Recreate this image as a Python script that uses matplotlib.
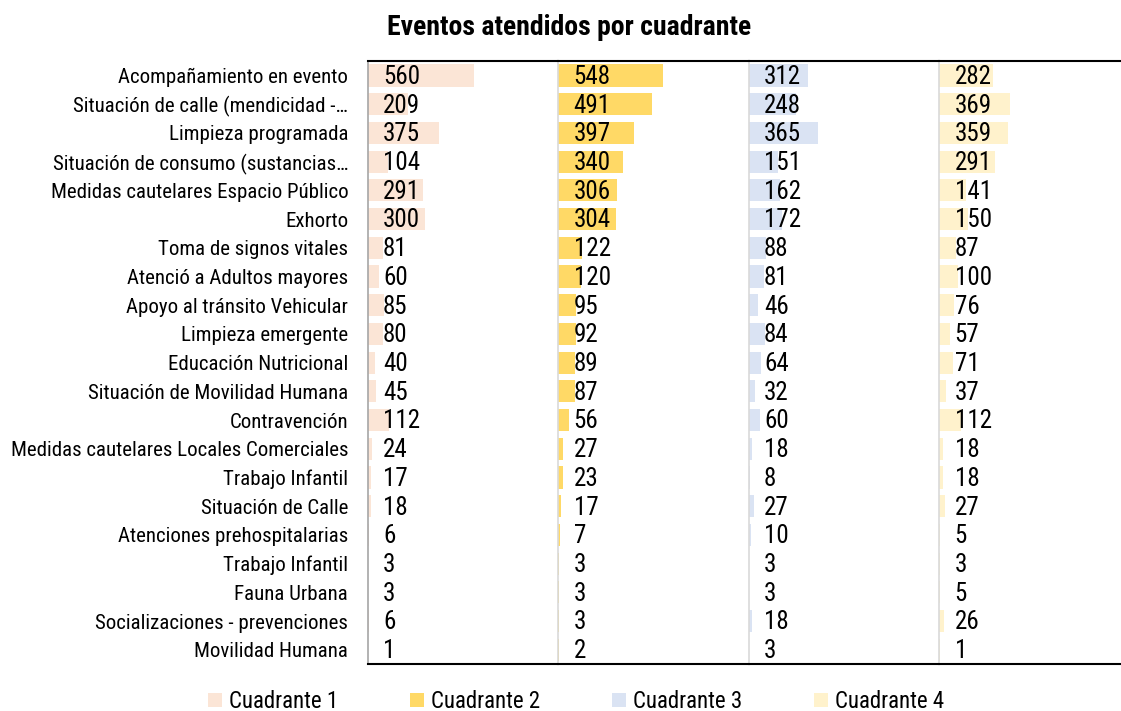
import matplotlib
matplotlib.use('Agg')
import matplotlib.pyplot as plt
from matplotlib import font_manager
from matplotlib.patches import Patch

categories = [
    'Acompañamiento en evento',
    'Situación de calle (mendicidad -…',
    'Limpieza programada',
    'Situación de consumo (sustancias…',
    'Medidas cautelares Espacio Público',
    'Exhorto',
    'Toma de signos vitales',
    'Atenció a Adultos mayores',
    'Apoyo al tránsito Vehicular',
    'Limpieza emergente',
    'Educación Nutricional',
    'Situación de Movilidad Humana',
    'Contravención',
    'Medidas cautelares Locales Comerciales',
    'Trabajo Infantil',
    'Situación de Calle',
    'Atenciones prehospitalarias',
    'Trabajo Infantil',
    'Fauna Urbana',
    'Socializaciones - prevenciones',
    'Movilidad Humana',
]
cuadrante_1 = [560, 209, 375, 104, 291, 300, 81, 60, 85, 80, 40, 45, 112, 24, 17, 18, 6, 3, 3, 6, 1]
cuadrante_2 = [548, 491, 397, 340, 306, 304, 122, 120, 95, 92, 89, 87, 56, 27, 23, 17, 7, 3, 3, 3, 2]
cuadrante_3 = [312, 248, 365, 151, 162, 172, 88, 81, 46, 84, 64, 32, 60, 18, 8, 27, 10, 3, 3, 18, 3]
cuadrante_4 = [282, 369, 359, 291, 141, 150, 87, 100, 76, 57, 71, 37, 112, 18, 18, 27, 5, 3, 5, 26, 1]
series = [cuadrante_1, cuadrante_2, cuadrante_3, cuadrante_4]
series_names = ['Cuadrante 1', 'Cuadrante 2', 'Cuadrante 3', 'Cuadrante 4']
colors = ['#FBE5D6', '#FFD966', '#DAE3F3', '#FFF2CC']

# pick a narrow font if one is around
names = {f.name for f in font_manager.fontManager.ttflist}
font = 'Roboto'
for cand in ['Roboto Condensed', 'Liberation Sans Narrow', 'Roboto']:
    if cand in names:
        font = cand
        break
plt.rcParams['font.family'] = [font, 'DejaVu Sans']
lab_size = 15
val_size = 18

fig = plt.figure(figsize=(11.21, 7.11), dpi=100)
gs = fig.add_gridspec(1, 4, left=0.328, right=1.008, top=0.914, bottom=0.066, wspace=0)

n = len(categories)
ypos = list(range(n))
for i, (vals, col) in enumerate(zip(series, colors)):
    ax = fig.add_subplot(gs[0, i])
    ax.barh(ypos, vals, height=0.77, color=col)
    for y, v in zip(ypos, vals):
        ax.annotate(str(v), (0, y), xytext=(11, -1), textcoords='offset points',
                    ha='left', va='center', fontsize=val_size, color='black')
    ax.set_xlim(0, 1000)
    ax.set_ylim(n - 0.5, -0.5)
    ax.set_xticks([])
    ax.spines['right'].set_visible(False)
    ax.spines['top'].set_color('black')
    ax.spines['top'].set_linewidth(1.5)
    ax.spines['bottom'].set_color('black')
    ax.spines['bottom'].set_linewidth(1.5)
    ax.spines['left'].set_color('#D9D9D9' if i else '#A6A6A6')
    ax.spines['left'].set_linewidth(1.2)
    if i == 0:
        ax.set_yticks(ypos)
        ax.set_yticklabels(categories, fontsize=lab_size)
        ax.tick_params(axis='y', length=0, pad=14)
    else:
        ax.set_yticks([])

fig.suptitle('Eventos atendidos por cuadrante', x=0.508, y=0.98,
             fontsize=20, fontweight='bold')

handles = [Patch(facecolor=c, edgecolor='none') for c in colors]
fig.legend(handles, series_names, loc='lower center', ncol=4, frameon=False,
           bbox_to_anchor=(0.514, -0.032), fontsize=16.5, handlelength=0.6,
           handleheight=0.6, handletextpad=0.3, columnspacing=3.15)

plt.savefig('out.png', dpi=100)
